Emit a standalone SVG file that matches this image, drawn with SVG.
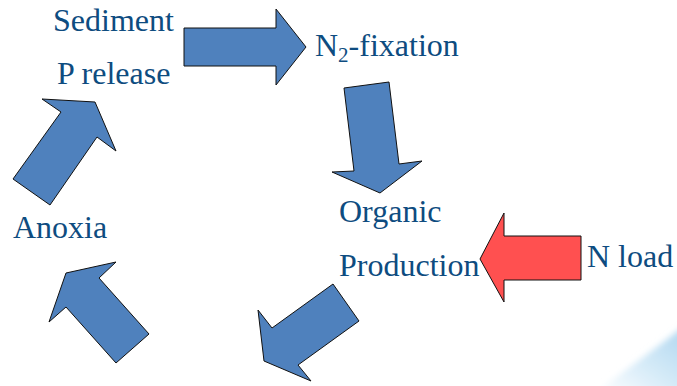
<svg xmlns="http://www.w3.org/2000/svg" width="677" height="386" viewBox="0 0 677 386">
  <style>
    .lbl { font-size: 32px; fill: #0E4C80; }
    .arrow { fill: #4F81BD; stroke: #111; stroke-width: 1; stroke-linejoin: miter; }
    .load { fill: #FF5050; stroke: #111; stroke-width: 1; }
  </style>
  <defs>
    <linearGradient id="swoosh" x1="0" y1="1" x2="1" y2="0">
      <stop offset="0" stop-color="#ffffff"/>
      <stop offset="0.45" stop-color="#d6ebf8"/>
      <stop offset="1" stop-color="#a9d3ee"/>
    </linearGradient>
    <filter id="soft" x="-20%" y="-20%" width="140%" height="140%">
      <feGaussianBlur stdDeviation="3"/>
    </filter>
  </defs>

  <rect width="677" height="386" fill="#ffffff"/>

  <!-- background swoosh, lower right corner -->
  <path d="M 596 392 Q 640 360 690 322 L 690 392 Z" fill="url(#swoosh)" filter="url(#soft)"/>

  <g font-family="'Liberation Serif', 'DejaVu Serif', serif">
    <g id="sediment">
      <text class="lbl" x="53" y="31">Sediment</text>
      <text class="lbl" x="57" y="84">P release</text>
    </g>
    <g id="fixation">
      <text class="lbl" x="315" y="56">N<tspan font-size="21" dy="6">2</tspan><tspan dy="-6">-fixation</tspan></text>
    </g>
    <g id="production">
      <text class="lbl" x="339" y="222">Organic</text>
      <text class="lbl" x="339" y="276">Production</text>
    </g>
    <g id="anoxia">
      <text class="lbl" x="13" y="238">Anoxia</text>
    </g>
    <g id="nload">
      <text class="lbl" x="587" y="267">N load</text>
    </g>
  </g>

  <g id="connectors">
    <!-- Sediment P release to N2-fixation -->
    <polygon class="arrow" points="184,28 276,28 276,9 306,47 276,85 276,66 184,66"/>
    <!-- N2-fixation to Organic Production -->
    <polygon class="arrow" points="344,88 389,82 399,164 422,161 380,193 332,172 354,171"/>
    <!-- Organic Production downward to the lower left -->
    <polygon class="arrow" points="333,284 359,321 298,365 311,381 264,361 258,310 272,328"/>
    <!-- lower left up toward Anoxia -->
    <polygon class="arrow" points="149,334 116,363 66,307 49,322 66,273 116,262 99,278"/>
    <!-- Anoxia to Sediment P release -->
    <polygon class="arrow" points="13,179 61,112 42,99 95,102 116,151 97,137 50,205"/>
    <!-- N load into Organic Production -->
    <polygon class="load" points="581,236 504,236 504,213 480,259 504,302 504,280 581,280"/>
  </g>
</svg>
